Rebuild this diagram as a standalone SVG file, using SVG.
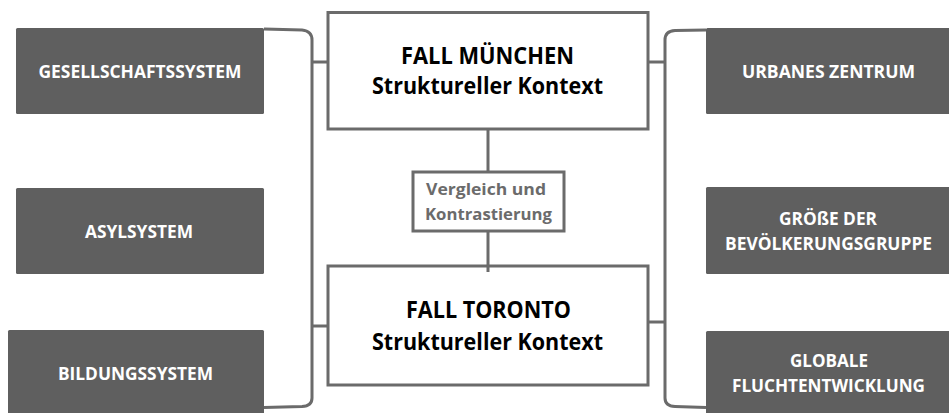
<svg xmlns="http://www.w3.org/2000/svg" width="949" height="413" viewBox="0 0 949 413">
<style>
.gbox{fill:#5f5f5f;}
.gt{font-family:"Open Sans","Liberation Sans",sans-serif;font-weight:bold;font-size:17.5px;fill:#ffffff;text-anchor:middle;}
.cbox{fill:#ffffff;stroke:#6b6b6b;stroke-width:3;}
.ct{font-family:"Open Sans","Liberation Sans",sans-serif;font-weight:bold;font-size:24px;fill:#000000;text-anchor:middle;}
.vt{font-family:"Open Sans","Liberation Sans",sans-serif;font-weight:bold;font-size:16.5px;fill:#6b6b6b;text-anchor:middle;}
.ln{fill:none;stroke:#6b6b6b;stroke-width:3;}
</style>
<rect width="949" height="413" fill="#ffffff"/>
<g id="connectors">
<path class="ln" d="M264,29 L302,30 Q312,31 312,40 L312,398 Q312,406 302,406.5 L264,407.5"/>
<path class="ln" d="M706,30 L675,30.5 Q665,31 665,40 L665,398 Q665,406 675,406.5 L706,407.5"/>
<line class="ln" x1="312" y1="62" x2="328" y2="62"/>
<line class="ln" x1="312" y1="326" x2="328" y2="326"/>
<line class="ln" x1="648" y1="62" x2="665" y2="62"/>
<line class="ln" x1="648" y1="322" x2="665" y2="322"/>
<line class="ln" x1="488" y1="129" x2="488" y2="172"/>
</g>
<g id="gesellschaftssystem">
<rect class="gbox" x="16" y="28" width="248" height="86" rx="1.5"/>
<text class="gt" x="140" y="78" textLength="203" lengthAdjust="spacingAndGlyphs">GESELLSCHAFTSSYSTEM</text>
</g>
<g id="asylsystem">
<rect class="gbox" x="16" y="188" width="248" height="86" rx="1.5"/>
<text class="gt" x="139" y="238" textLength="108" lengthAdjust="spacingAndGlyphs">ASYLSYSTEM</text>
</g>
<g id="bildungssystem">
<rect class="gbox" x="8" y="330" width="256" height="90" rx="1.5"/>
<text class="gt" x="135.5" y="380" textLength="155" lengthAdjust="spacingAndGlyphs">BILDUNGSSYSTEM</text>
</g>
<g id="urbanes-zentrum">
<rect class="gbox" x="706" y="28" width="250" height="86" rx="1.5"/>
<text class="gt" x="828.5" y="78" textLength="173" lengthAdjust="spacingAndGlyphs">URBANES ZENTRUM</text>
</g>
<g id="groesse">
<rect class="gbox" x="706" y="187" width="250" height="87" rx="1.5"/>
<text class="gt" x="828" y="225" textLength="98" lengthAdjust="spacingAndGlyphs">GRÖßE DER</text>
<text class="gt" x="828.5" y="250" textLength="207" lengthAdjust="spacingAndGlyphs">BEVÖLKERUNGSGRUPPE</text>
</g>
<g id="globale">
<rect class="gbox" x="706" y="331" width="250" height="90" rx="1.5"/>
<text class="gt" x="829" y="367" textLength="78" lengthAdjust="spacingAndGlyphs">GLOBALE</text>
<text class="gt" x="828.5" y="392" textLength="193" lengthAdjust="spacingAndGlyphs">FLUCHTENTWICKLUNG</text>
</g>
<g id="muenchen">
<rect class="cbox" x="328" y="12.5" width="320" height="116.5"/>
<text class="ct" x="487.5" y="64" textLength="173" lengthAdjust="spacingAndGlyphs">FALL MÜNCHEN</text>
<text class="ct" x="487.5" y="94" textLength="231" lengthAdjust="spacingAndGlyphs">Struktureller Kontext</text>
</g>
<g id="vergleich">
<rect class="cbox" x="413" y="172" width="151" height="59" stroke-width="2.5"/>
<text class="vt" x="486" y="195" textLength="120" lengthAdjust="spacingAndGlyphs">Vergleich und</text>
<text class="vt" x="488.5" y="220" textLength="127" lengthAdjust="spacingAndGlyphs">Kontrastierung</text>
</g>
<g id="toronto">
<rect class="cbox" x="328" y="266" width="320" height="119"/>
<text class="ct" x="488.5" y="318" textLength="165" lengthAdjust="spacingAndGlyphs">FALL TORONTO</text>
<text class="ct" x="487.5" y="350" textLength="231" lengthAdjust="spacingAndGlyphs">Struktureller Kontext</text>
</g>
<g id="connector-lower">
<line class="ln" x1="488" y1="231" x2="488" y2="272"/>
</g>
</svg>
